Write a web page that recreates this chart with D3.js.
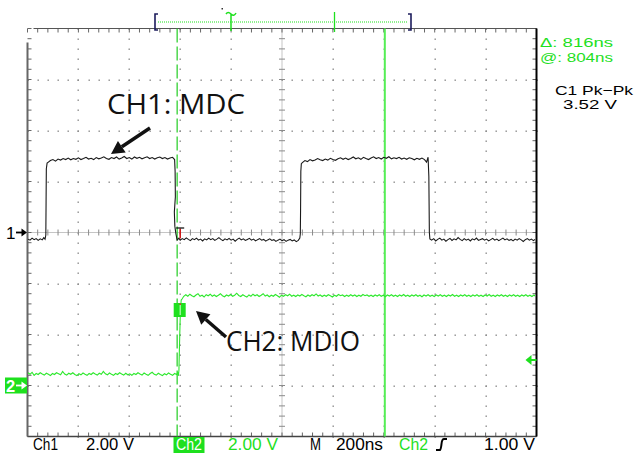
<!DOCTYPE html>
<html><head><meta charset="utf-8">
<script src="https://cdn.jsdelivr.net/npm/d3@7"></script>
<style>html,body{margin:0;padding:0;background:#fff;}svg{display:block;}</style>
</head><body>
<svg id="c" width="634" height="453"></svg>
<script>
// ---------------- data ----------------
// time axis (ns, relative to trigger) and division settings
const timeDomain = [-600, 1400];           // 10 div x 200 ns
const divDomain = [-4, 4];                 // 8 vertical divisions
const ch1VoltsPerDiv = 2.0, ch1OffsetDiv = 0;
const ch2VoltsPerDiv = 2.0, ch2OffsetDiv = -3;
const trigLevelV = 1.0;
const cursorA = -12, cursorB = 804;        // ns

// CH1 (MDC) samples [ns, V]
const ch1 = [
[-598,-0.26],[-590,-0.3],[-582,-0.22],[-574,-0.28],[-566,-0.24],[-558,-0.31],[-550,-0.25],[-542,-0.29],[-536,-0.2],[-531,-0.26],
[-528,-0.1],[-527,1.2],[-526,2.5],[-523,2.72],[-518,2.76],
[-510,2.82],[-500,2.86],[-490,2.8],[-480,2.88],[-470,2.84],[-460,2.9],[-450,2.86],[-440,2.92],[-430,2.85],[-420,2.9],[-410,2.87],[-400,2.93],[-390,2.86],[-380,2.9],[-370,2.95],[-360,2.88],[-350,2.91],[-340,2.86],[-330,2.94],[-320,2.89],[-310,2.92],[-300,2.97],[-290,2.9],[-280,2.87],[-270,2.94],[-260,2.9],[-250,2.96],[-240,2.88],[-230,2.92],[-220,2.98],[-210,2.9],[-200,2.94],[-190,2.88],[-180,2.96],[-170,2.91],[-160,2.95],[-150,2.89],[-140,2.93],[-130,2.97],[-120,2.9],[-110,2.94],[-100,2.88],[-90,2.93],[-80,2.96],[-70,2.9],[-60,2.94],[-50,2.88],[-40,2.92],[-30,2.95],[-22,2.86],
[-20,2.4],[-19,1.4],[-23,0.8],[-21,0.25],[-17,-0.05],[-12,-0.3],
[-5,-0.22],[0,-0.3],[8,-0.24],[16,-0.28],[24,-0.21],[32,-0.27],[40,-0.32],[48,-0.24],[56,-0.28],[64,-0.22],[72,-0.3],[80,-0.26],[88,-0.33],[96,-0.25],[104,-0.29],[112,-0.22],[120,-0.28],[128,-0.24],[136,-0.31],[144,-0.26],[152,-0.2],[160,-0.27],[168,-0.32],[176,-0.25],[184,-0.29],[192,-0.23],[200,-0.3],[208,-0.26],[216,-0.34],[224,-0.27],[232,-0.22],[240,-0.29],[248,-0.25],[256,-0.31],[264,-0.27],[272,-0.23],[280,-0.3],[288,-0.26],[296,-0.33],[304,-0.28],[312,-0.24],[320,-0.3],[328,-0.27],[336,-0.34],[344,-0.29],[352,-0.25],[360,-0.31],[368,-0.28],[376,-0.35],[384,-0.3],[392,-0.26],[400,-0.32],[408,-0.28],[416,-0.35],[424,-0.3],[432,-0.27],[440,-0.33],[448,-0.29],[456,-0.36],[464,-0.31],[470,-0.22],
[472,-0.05],[473,0.9],[474,2.4],[476,2.7],
[480,2.74],[490,2.82],[500,2.78],[510,2.86],[520,2.81],[530,2.84],[540,2.9],[550,2.85],[560,2.82],[570,2.88],[580,2.84],[590,2.91],[600,2.86],[610,2.83],[620,2.89],[630,2.93],[640,2.87],[650,2.92],[660,2.86],[670,2.9],[680,2.96],[690,2.89],[700,2.93],[710,2.87],[720,2.95],[730,2.9],[740,2.86],[750,2.92],[760,2.97],[770,2.9],[780,2.94],[790,2.88],[800,2.95],[810,2.91],[820,2.97],[830,2.89],[840,2.93],[850,2.9],[860,2.95],[870,2.88],[880,2.92],[890,2.87],[900,2.93],[910,2.9],[920,2.85],[930,2.91],[940,2.87],[950,2.92],[960,2.86],[968,2.76],[974,2.95],
[977,2.2],[978,1.1],[979,0.0],[981,-0.25],
[988,-0.3],[996,-0.24],[1004,-0.33],[1012,-0.27],[1020,-0.22],[1028,-0.3],[1036,-0.26],[1044,-0.34],[1052,-0.28],[1060,-0.23],[1068,-0.31],[1076,-0.25],[1084,-0.29],[1092,-0.2],[1100,-0.27],[1108,-0.32],[1116,-0.24],[1124,-0.3],[1132,-0.26],[1140,-0.33],[1148,-0.25],[1156,-0.29],[1164,-0.22],[1172,-0.31],[1180,-0.27],[1188,-0.24],[1196,-0.3],[1204,-0.26],[1212,-0.33],[1220,-0.28],[1228,-0.23],[1236,-0.3],[1244,-0.26],[1252,-0.32],[1260,-0.27],[1268,-0.22],[1276,-0.29],[1284,-0.25],[1292,-0.31],[1300,-0.27],[1308,-0.33],[1316,-0.26],[1324,-0.3],[1332,-0.24],[1340,-0.29],[1348,-0.35],[1356,-0.28],[1364,-0.24],[1372,-0.3],[1380,-0.26],[1388,-0.32],[1394,-0.27]
];

// CH2 (MDIO) samples [ns, V]
const ch2 = [
[-598,0.5],[-590,0.44],[-582,0.52],[-574,0.4],[-566,0.47],[-558,0.43],[-550,0.5],[-542,0.45],[-534,0.41],[-526,0.48],[-518,0.44],[-510,0.39],[-502,0.47],[-494,0.43],[-486,0.5],[-478,0.46],[-470,0.42],[-462,0.55],[-454,0.45],[-446,0.41],[-438,0.48],[-430,0.44],[-422,0.5],[-414,0.43],[-406,0.39],[-398,0.46],[-390,0.42],[-382,0.49],[-374,0.44],[-366,0.4],[-358,0.47],[-350,0.43],[-342,0.5],[-334,0.45],[-326,0.41],[-318,0.48],[-310,0.44],[-302,0.55],[-294,0.46],[-286,0.42],[-278,0.49],[-270,0.44],[-262,0.4],[-254,0.47],[-246,0.43],[-238,0.5],[-230,0.45],[-222,0.41],[-214,0.48],[-206,0.42],[-198,0.46],[-190,0.4],[-182,0.47],[-174,0.43],[-166,0.5],[-158,0.45],[-150,0.41],[-142,0.49],[-134,0.44],[-126,0.4],[-118,0.47],[-110,0.52],[-102,0.44],[-94,0.41],[-86,0.48],[-78,0.43],[-70,0.39],[-62,0.46],[-54,0.42],[-46,0.49],[-38,0.44],[-30,0.4],[-22,0.47],[-14,0.43],[-10,0.5],[-7,0.38],
[-5,0.6],[-2,1.9],[1,3.0],[4,3.35],[8,3.4],[14,3.5],
[22,3.56],[30,3.5],[38,3.58],[46,3.52],[54,3.48],[62,3.55],[70,3.6],[78,3.5],[86,3.54],[94,3.47],[102,3.56],[110,3.52],[118,3.58],[126,3.5],[134,3.55],[142,3.49],[150,3.54],[158,3.6],[166,3.52],[174,3.48],[182,3.55],[190,3.51],[198,3.57],[206,3.5],[214,3.54],[222,3.62],[230,3.53],[238,3.49],[246,3.56],[254,3.51],[262,3.47],[270,3.55],[278,3.5],[286,3.58],[294,3.52],[302,3.56],[310,3.49],[318,3.54],[326,3.6],[334,3.51],[342,3.55],[350,3.48],[358,3.54],[366,3.5],[374,3.57],[382,3.52],[390,3.46],[398,3.54],[406,3.5],[414,3.56],[422,3.52],[430,3.58],[438,3.5],[446,3.54],[454,3.49],[462,3.55],[470,3.51],[478,3.57],[486,3.52],[494,3.48],[502,3.55],[510,3.5],[518,3.56],[526,3.52],[534,3.59],[542,3.51],[550,3.55],[558,3.49],[566,3.54],[574,3.5],[582,3.56],[590,3.52],[598,3.47],[606,3.54],[614,3.5],[622,3.57],[630,3.52],[638,3.55],[646,3.49],[654,3.54],[662,3.5],[670,3.56],[678,3.51],[686,3.55],[694,3.49],[702,3.54],[710,3.5],[718,3.57],[726,3.52],[734,3.55],[742,3.5],[750,3.54],[758,3.49],[766,3.55],[774,3.51],[782,3.56],[790,3.5],[798,3.54],[806,3.48],[814,3.55],[822,3.51],[830,3.56],[838,3.5],[846,3.54],[854,3.49],[862,3.55],[870,3.51],[878,3.57],[886,3.5],[894,3.54],[902,3.49],[910,3.55],[918,3.51],[926,3.56],[934,3.5],[942,3.54],[950,3.48],[958,3.55],[966,3.51],[974,3.56],[982,3.5],[990,3.54],[998,3.49],[1006,3.55],[1014,3.51],[1022,3.56],[1030,3.5],[1038,3.54],[1046,3.49],[1054,3.55],[1062,3.51],[1070,3.57],[1078,3.5],[1086,3.54],[1094,3.49],[1102,3.55],[1110,3.51],[1118,3.56],[1126,3.5],[1134,3.54],[1142,3.49],[1150,3.55],[1158,3.51],[1166,3.56],[1174,3.5],[1182,3.54],[1190,3.49],[1198,3.55],[1206,3.51],[1214,3.57],[1222,3.5],[1230,3.54],[1238,3.49],[1246,3.55],[1254,3.51],[1262,3.56],[1270,3.5],[1278,3.54],[1286,3.49],[1294,3.55],[1302,3.51],[1310,3.56],[1318,3.5],[1326,3.54],[1334,3.49],[1342,3.55],[1350,3.51],[1358,3.56],[1366,3.5],[1374,3.54],[1382,3.49],[1390,3.55],[1394,3.51]
];

// readouts
const bottomLabels = [
  {text:"Ch1", x:33, len:25, color:"black"},
  {text:"2.00 V", x:86, len:48, color:"black"},
  {text:"Ch2", x:176, len:26, color:"white", box:true},
  {text:"2.00 V", x:228, len:50, color:"green"},
  {text:"M", x:310, len:11, color:"black"},
  {text:"200ns", x:336, len:47, color:"black"},
  {text:"Ch2", x:399, len:29, color:"green"},
  {text:"1.00 V", x:484, len:51, color:"black"}
];
const sideLabels = [
  {text:"\u0394: 816ns", x:540, y:47, len:73, color:"green"},
  {text:"@: 804ns", x:540, y:62, len:73, color:"green"},
  {text:"C1 Pk\u2212Pk", x:555, y:95, len:78, color:"black"},
  {text:"3.52 V", x:563, y:109, len:54, color:"black"}
];
const annotations = [
  {text:"CH1: MDC", x:107, y:114, len:138, tail:[150,128], tip:[111,154]},
  {text:"CH2: MDIO", x:226, y:351, len:134, tail:[226,337], tip:[196,311]}
];

// ---------------- drawing ----------------
const GREEN = "#1ee01e", GRID = "#8a8a8a";
const svg = d3.select("#c");
svg.append("rect").attr("width",634).attr("height",453).attr("fill","#fff");

const X0 = 27.5, X1 = 536.5, Y0 = 28.5, Y1 = 436.5;
const x = d3.scaleLinear().domain(timeDomain).range([X0, X1]);
const yDiv = d3.scaleLinear().domain(divDomain).range([Y1, Y0]);
const y1 = v => yDiv(v / ch1VoltsPerDiv + ch1OffsetDiv);
const y2 = v => yDiv(v / ch2VoltsPerDiv + ch2OffsetDiv);

const majorT = x.ticks(10);                        // every 200 ns
const minorT = d3.range(timeDomain[0], timeDomain[1] + 1, 40);
const majorD = d3.range(divDomain[0], divDomain[1] + 1, 1);
const minorD = d3.range(divDomain[0], divDomain[1] + 0.001, 0.2);
const centerT = (timeDomain[0] + timeDomain[1]) / 2;

const g = svg.append("g");
// dotted graticule (dots every 1/5 div along major lines)
majorT.filter(t => t !== centerT && t !== timeDomain[0] && t !== timeDomain[1]).forEach(t => {
  minorD.forEach(d => g.append("rect").attr("x", Math.round(x(t)) - 0.5).attr("y", Math.round(yDiv(d)) - 0.5)
    .attr("width",1.4).attr("height",1.4).attr("fill",GRID));
});
majorD.filter(d => d !== 0 && Math.abs(d) !== 4).forEach(d => {
  minorT.forEach(t => g.append("rect").attr("x", Math.round(x(t)) - 0.5).attr("y", Math.round(yDiv(d)) - 0.5)
    .attr("width",1.4).attr("height",1.4).attr("fill",GRID));
});
// center cross lines
g.append("line").attr("x1",x(centerT)).attr("x2",x(centerT)).attr("y1",Y0).attr("y2",Y1)
  .attr("stroke",GRID).attr("stroke-width",1).attr("stroke-dasharray","1,1");
g.append("line").attr("x1",X0).attr("x2",X1).attr("y1",yDiv(0)).attr("y2",yDiv(0))
  .attr("stroke",GRID).attr("stroke-width",1).attr("stroke-dasharray","1,1");
minorD.forEach(d => g.append("line").attr("x1",x(centerT)-3).attr("x2",x(centerT)+3)
  .attr("y1",yDiv(d)).attr("y2",yDiv(d)).attr("stroke",GRID).attr("stroke-width",1));
minorT.forEach(t => g.append("line").attr("x1",x(t)).attr("x2",x(t))
  .attr("y1",yDiv(0)-3).attr("y2",yDiv(0)+3).attr("stroke",GRID).attr("stroke-width",1));
// edge ticks
minorT.forEach(t => {
  g.append("line").attr("x1",x(t)).attr("x2",x(t)).attr("y1",Y0).attr("y2",Y0+4).attr("stroke","#666");
  g.append("line").attr("x1",x(t)).attr("x2",x(t)).attr("y1",Y1-4).attr("y2",Y1).attr("stroke","#666");
});
minorD.forEach(d => {
  g.append("line").attr("x1",X0).attr("x2",X0+4).attr("y1",yDiv(d)).attr("y2",yDiv(d)).attr("stroke","#666");
  g.append("line").attr("x1",X1-4).attr("x2",X1).attr("y1",yDiv(d)).attr("y2",yDiv(d)).attr("stroke","#666");
});
// frame
g.append("line").attr("x1",X0+6).attr("x2",X1).attr("y1",Y0).attr("y2",Y0).attr("stroke","#555").attr("stroke-width",1.2);
g.append("line").attr("x1",X0).attr("x2",X1).attr("y1",Y1).attr("y2",Y1).attr("stroke","#444").attr("stroke-width",1.5);
g.append("line").attr("x1",X0).attr("x2",X0).attr("y1",Y0+14).attr("y2",Y1).attr("stroke","#666").attr("stroke-width",2);
g.append("line").attr("x1",X1).attr("x2",X1).attr("y1",Y0).attr("y2",Y1).attr("stroke","#000").attr("stroke-width",2);

// cursors
svg.append("line").attr("x1",x(cursorA)).attr("x2",x(cursorA)).attr("y1",Y0).attr("y2",Y1)
  .attr("stroke","#22cc22").attr("stroke-width",1.2).attr("stroke-dasharray","14,4");
svg.append("line").attr("x1",x(cursorB)).attr("x2",x(cursorB)).attr("y1",Y0).attr("y2",Y1)
  .attr("stroke","#55ee55").attr("stroke-width",2);

// traces
const line1 = d3.line().x(d => x(d[0])).y(d => y1(d[1]));
const line2 = d3.line().x(d => x(d[0])).y(d => y2(d[1]));
svg.append("path").attr("d",line2(ch2)).attr("fill","none").attr("stroke","#2ee82e").attr("stroke-width",1.1);
svg.append("path").attr("d",line1(ch1)).attr("fill","none").attr("stroke","#1a1a1a").attr("stroke-width",1.1);

// trigger position marker on CH1 ground
const tx = x(0);
svg.append("line").attr("x1",tx).attr("x2",tx).attr("y1",yDiv(0)-4).attr("y2",yDiv(0)+6).attr("stroke","#d01010").attr("stroke-width",1.5);
svg.append("line").attr("x1",tx-4).attr("x2",tx+4).attr("y1",yDiv(0)-4.5).attr("y2",yDiv(0)-4.5).attr("stroke","#000").attr("stroke-width",1.2);
// green trigger box on CH2 edge
svg.append("rect").attr("x",tx-6.5).attr("y",303).attr("width",12).attr("height",14).attr("fill",GREEN);
svg.append("line").attr("x1",tx).attr("x2",tx).attr("y1",305).attr("y2",315).attr("stroke","#b8ffb8").attr("stroke-width",1.2);
svg.append("rect").attr("x",tx-0.7).attr("y",303.5).attr("width",1.5).attr("height",1.5).attr("fill","#d33");

// channel ground markers: number + arrow drawn as path
function groundArrow(yc, color) {
  svg.append("line").attr("x1",16).attr("x2",23).attr("y1",yc).attr("y2",yc).attr("stroke",color).attr("stroke-width",1.8);
  svg.append("path").attr("d",`M27,${yc} L21.5,${yc-4} L21.5,${yc+4} Z`).attr("fill",color);
}
const g1 = yDiv(ch1OffsetDiv), g2 = yDiv(ch2OffsetDiv);
svg.append("text").attr("x",6).attr("y",g1+6).attr("font-family","Liberation Sans, Arial, sans-serif")
  .attr("font-size",17).attr("fill","#000").text("1");
groundArrow(g1, "#000");
svg.append("rect").attr("x",5).attr("y",g2-8).attr("width",22).attr("height",16).attr("fill",GREEN);
svg.append("text").attr("x",6).attr("y",g2+6).attr("font-family","Liberation Sans, Arial, sans-serif")
  .attr("font-size",16.5).attr("font-weight","bold").attr("fill","#fff").text("2");
groundArrow(g2, "#fff");
// trigger level arrow (right)
const tl = y2(trigLevelV);
svg.append("path").attr("d",`M${X1-11},${tl} L${X1-5},${tl-5} L${X1-5},${tl+5} Z`).attr("fill",GREEN);
svg.append("line").attr("x1",X1-6).attr("x2",X1).attr("y1",tl).attr("y2",tl).attr("stroke",GREEN).attr("stroke-width",2);

// record bar at top
const navy = "#1c1c5c";
svg.append("path").attr("d","M158,14 L155,14 L155,30 L158,30").attr("fill","none").attr("stroke",navy).attr("stroke-width",1.6);
svg.append("path").attr("d","M408,14 L411,14 L411,30 L408,30").attr("fill","none").attr("stroke",navy).attr("stroke-width",1.6);
svg.append("line").attr("x1",158).attr("x2",408).attr("y1",22).attr("y2",22).attr("stroke",GREEN).attr("stroke-dasharray","1,1");
svg.append("line").attr("x1",334.5).attr("x2",334.5).attr("y1",12).attr("y2",32).attr("stroke",GREEN).attr("stroke-width",1.3);
svg.append("path").attr("d","M226,14 Q228,11 231,14 Q234,17 236,13 M231,14 L231,31").attr("fill","none").attr("stroke",GREEN).attr("stroke-width",1.5);
svg.append("rect").attr("x",221.5).attr("y",8).attr("width",1.5).attr("height",1.5).attr("fill","#333");

// readout texts
const colorOf = c => c === "green" ? GREEN : c === "white" ? "#fff" : "#000";
bottomLabels.forEach(l => {
  if (l.box) svg.append("rect").attr("x",l.x-2.5).attr("y",437).attr("width",l.len+5).attr("height",16).attr("fill",GREEN);
  svg.append("text").attr("x",l.x).attr("y",450).attr("font-family","Liberation Sans, Arial, sans-serif")
    .attr("font-size",16.5).attr("fill",colorOf(l.color))
    .attr("textLength",l.len).attr("lengthAdjust","spacingAndGlyphs").text(l.text);
});
// rising-edge trigger slope symbol
svg.append("path").attr("d","M436,450 L440,450 Q441,449 441.5,444 Q442,439 444,439 L447,439")
  .attr("fill","none").attr("stroke","#000").attr("stroke-width",2);
sideLabels.forEach(l => {
  svg.append("text").attr("x",l.x).attr("y",l.y).attr("font-family","Liberation Sans, Arial, sans-serif")
    .attr("font-size",12.8).attr("fill",colorOf(l.color))
    .attr("textLength",l.len).attr("lengthAdjust","spacingAndGlyphs").text(l.text);
});

// annotations with arrows
annotations.forEach(a => {
  svg.append("text").attr("x",a.x).attr("y",a.y).attr("font-family","Open Sans, Noto Sans, sans-serif")
    .attr("font-size",27).attr("fill","#111").attr("textLength",a.len).attr("lengthAdjust","spacingAndGlyphs").text(a.text);
  const [tx0,ty0] = a.tail, [tx1,ty1] = a.tip;
  const ang = Math.atan2(ty1-ty0, tx1-tx0), L = 13, W = 7;
  const bx = tx1 - L*Math.cos(ang), by = ty1 - L*Math.sin(ang);
  svg.append("line").attr("x1",tx0).attr("y1",ty0).attr("x2",bx).attr("y2",by).attr("stroke","#111").attr("stroke-width",3.5);
  const px = -Math.sin(ang)*W, py = Math.cos(ang)*W;
  svg.append("path").attr("d",`M${tx1},${ty1} L${bx+px},${by+py} L${bx-px},${by-py} Z`).attr("fill","#111");
});
</script>
</body></html>
